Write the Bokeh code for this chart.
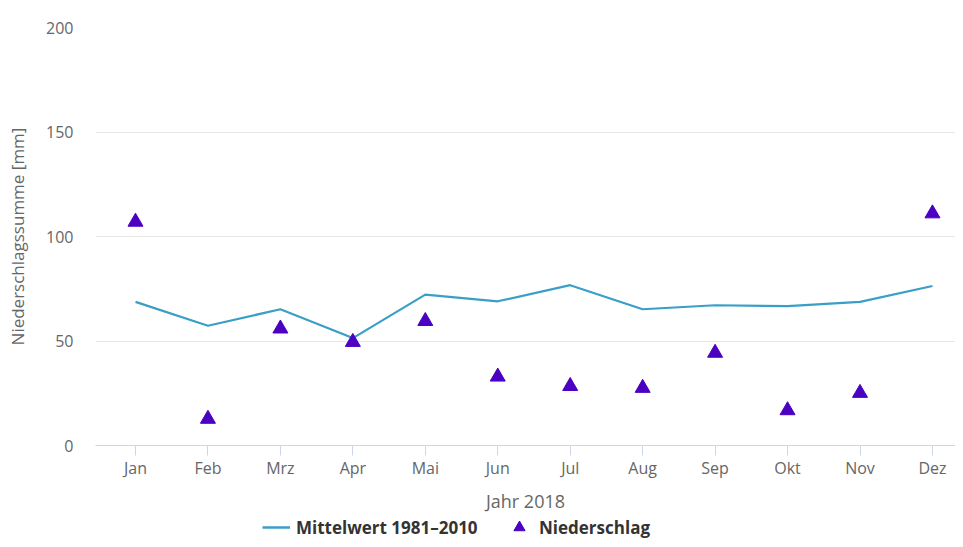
from bokeh.plotting import figure
from bokeh.layouts import column
from bokeh.models import Range1d, FixedTicker, Legend, LegendItem, ColumnDataSource
from bokeh.embed import file_html
from bokeh.resources import INLINE

months = ["Jan", "Feb", "Mrz", "Apr", "Mai", "Jun", "Jul", "Aug", "Sep", "Okt", "Nov", "Dez"]
mittelwert = [68.7, 57.3, 65.2, 51.4, 72.2, 69.0, 76.7, 65.2, 67.1, 66.7, 68.7, 76.3]
niederschlag = [107.0, 12.7, 55.9, 49.5, 59.5, 32.9, 28.4, 27.5, 44.3, 16.8, 25.1, 111.0]
y_ticks = [0, 50, 100, 150, 200]

xs = list(range(len(months)))
src = ColumnDataSource(dict(x=xs, m=mittelwert, n=niederschlag))

FONT = "Open Sans"
LINE_COLOR = "#3a9fc7"
TRI_COLOR = "#4b00c2"

p = figure(width=955, height=515, output_backend="svg", toolbar_location=None,
           x_range=Range1d(-0.552, 11.318), y_range=Range1d(0, 200),
           min_border_left=95, min_border_right=0, min_border_top=27, min_border_bottom=68)
p.outline_line_color = None
p.background_fill_color = "white"
p.border_fill_color = "white"

p.line("x", "m", source=src, line_color=LINE_COLOR, line_width=2.2)
p.scatter("x", "n", source=src, marker="triangle", size=15,
          fill_color=TRI_COLOR, line_color=TRI_COLOR)

# grids
p.xgrid.visible = False
p.ygrid.grid_line_color = "#e6e6e6"
p.ygrid.grid_line_width = 1

# y axis
p.yaxis.ticker = FixedTicker(ticks=y_ticks)
p.yaxis.axis_line_color = None
p.yaxis.major_tick_line_color = None
p.yaxis.minor_tick_line_color = None
p.yaxis.major_tick_out = 0
p.yaxis.major_tick_in = 0
p.yaxis.major_label_standoff = 22
p.yaxis.major_label_text_font = FONT
p.yaxis.major_label_text_font_size = "16px"
p.yaxis.major_label_text_color = "#666666"
p.yaxis.axis_label = "Niederschlagssumme [mm]"
p.yaxis.axis_label_text_font = FONT
p.yaxis.axis_label_text_font_size = "17px"
p.yaxis.axis_label_text_font_style = "normal"
p.yaxis.axis_label_text_color = "#666666"
p.yaxis.axis_label_standoff = 14

# x axis
p.xaxis.ticker = FixedTicker(ticks=xs)
p.xaxis.major_label_overrides = {i: m for i, m in enumerate(months)}
p.xaxis.axis_line_color = "#ccd6eb"
p.xaxis.major_tick_line_color = "#ccd6eb"
p.xaxis.minor_tick_line_color = None
p.xaxis.major_tick_out = 10
p.xaxis.major_tick_in = 0
p.xaxis.major_label_standoff = 1
p.xaxis.major_label_text_font = FONT
p.xaxis.major_label_text_font_size = "16px"
p.xaxis.major_label_text_color = "#666666"
p.xaxis.axis_label = "Jahr 2018"
p.xaxis.axis_label_text_font = FONT
p.xaxis.axis_label_text_font_size = "18px"
p.xaxis.axis_label_text_font_style = "normal"
p.xaxis.axis_label_text_color = "#666666"
p.xaxis.axis_label_standoff = 7

# legend strip below the chart (its renderers lie outside its visible range)
lg = figure(width=955, height=24, output_backend="svg", toolbar_location=None,
            x_range=Range1d(0, 1), y_range=Range1d(-2, -1),
            x_axis_location=None, y_axis_location=None,
            min_border_left=0, min_border_right=0, min_border_top=0, min_border_bottom=0)
lg.outline_line_color = None
lg.xgrid.visible = False
lg.ygrid.visible = False
lg.background_fill_color = "white"
lg.border_fill_color = "white"
lr_line = lg.line("x", "m", source=src, line_color=LINE_COLOR, line_width=2.5)
lr_tri = lg.scatter("x", "n", source=src, marker="triangle", size=15,
                    fill_color=TRI_COLOR, line_color=TRI_COLOR)

legend = Legend(items=[LegendItem(label="Mittelwert 1981–2010", renderers=[lr_line]),
                       LegendItem(label="Niederschlag", renderers=[lr_tri])],
                orientation="horizontal", location=(167, -2),
                padding=0, margin=0, spacing=0, glyph_width=28, glyph_height=28,
                label_height=28, label_standoff=6, label_width=209,
                label_text_font=FONT, label_text_font_size="17px",
                label_text_font_style="bold", label_text_color="#333333",
                border_line_color=None, background_fill_alpha=0)
lg.add_layout(legend)

layout = column(p, lg, spacing=0)
open("out.html", "w").write(file_html(layout, INLINE))
